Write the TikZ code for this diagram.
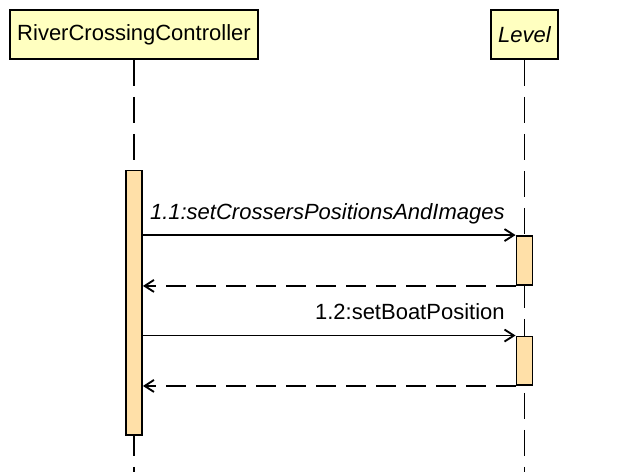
\documentclass[tikz,border=0pt]{standalone}
\usepackage{fontspec}
\setmainfont{Liberation Sans}
\usetikzlibrary{arrows.meta}

\definecolor{headfill}{HTML}{FFFFC0}
\definecolor{barfill}{HTML}{FFE0A8}

\tikzset{
    actor/.style={draw, line width=1.4pt, fill=headfill, minimum height=36.75pt, inner sep=0pt, font=\fontsize{16.5}{19}\selectfont},
    lifeline/.style={line width=1.4pt, dash pattern=on 19.5pt off 8.25pt},
    actbar/.style={draw, line width=1.4pt, fill=barfill, minimum width=12pt, inner sep=0pt},
    msg/.style={line width=1.4pt, -{Straight Barb[length=7pt,width=9pt]}},
    ret/.style={msg, dash pattern=on 15pt off 7.5pt},
    msglabel/.style={font=\fontsize{16.5}{19}\selectfont, anchor=base east, inner sep=0pt}
}

\begin{document}
\begin{tikzpicture}[x=0.75pt,y=-0.75pt]
        \useasboundingbox (0,0) rectangle (640,472);
        \coordinate (bottom) at (0,472);

        \node[actor, minimum width=186pt] (ctrl) at (134,34.5) {RiverCrossingController};
        \node[actor, minimum width=50.25pt] (level) at (524.5,34.5) {\itshape Level};

        \draw[lifeline] (ctrl.south) -- (ctrl.south |- bottom);
        \draw[lifeline] (level.south) -- (level.south |- bottom);

        \node[actbar, minimum height=198.4pt] (ctrlbar) at (134,302.75) {};
        \node[actbar, minimum height=36.75pt] (act1) at (524.5,260.5) {};
        \node[actbar, minimum height=36.4pt] (act2) at (524.5,360.75) {};

        \draw[msg] (ctrlbar.east |- act1.north) -- (act1.north west)
            node[msglabel, xshift=-7.5pt, yshift=12pt] (m1) {\itshape 1.1:setCrossersPositionsAndImages};
        \draw[ret] (act1.south west) -- (ctrlbar.east |- act1.south);

        \draw[msg] (ctrlbar.east |- act2.north) -- (act2.north west)
            node[msglabel, xshift=-7.5pt, yshift=12pt] (m2) {1.2:setBoatPosition};
        \draw[ret] (act2.south west) -- (ctrlbar.east |- act2.south);

    \end{tikzpicture}
\end{document}
